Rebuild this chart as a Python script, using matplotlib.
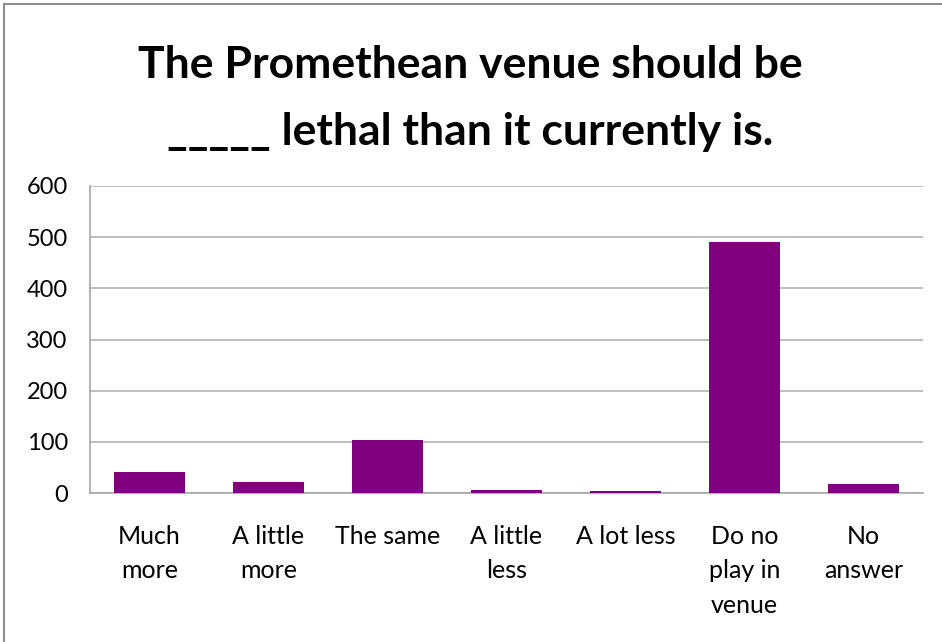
import matplotlib
matplotlib.use("Agg")
import matplotlib.pyplot as plt
from matplotlib.lines import Line2D

categories = ["Much\nmore", "A little\nmore", "The same", "A little\nless", "A lot less", "Do no\nplay in\nvenue", "No\nanswer"]
values = [41, 22, 104, 6, 3, 491, 18]
yticks = [0, 100, 200, 300, 400, 500, 600]
title_lines = ["The Promethean venue should be", "_____ lethal than it currently is."]

W, H = 942, 642
fig = plt.figure(figsize=(W / 100, H / 100), dpi=100)
fig.patch.set_facecolor("white")

ax = fig.add_axes([90 / W, 1 - 493 / H, (923 - 90) / W, (493 - 186) / H])
x = list(range(len(categories)))
ax.bar(x, values, width=0.6, color="#800080", zorder=3)
ax.set_xlim(-0.5, len(categories) - 0.5)
ax.set_ylim(0, 600)
ax.set_yticks(yticks)
ax.set_yticklabels([str(v) for v in yticks], fontsize=17, family="Lato")
ax.set_xticks(x)
ax.set_xticklabels(categories, fontsize=18, family="Lato", linespacing=1.6, va="top")
ax.tick_params(axis="both", length=0)
ax.tick_params(axis="y", pad=16)
ax.tick_params(axis="x", pad=23)
ax.grid(axis="y", color="#b3b3b3", linewidth=1.2, zorder=0)
for s in ["top", "right"]:
    ax.spines[s].set_visible(False)
for s in ["left", "bottom"]:
    ax.spines[s].set_color("#a6a6a6")
    ax.spines[s].set_linewidth(1.2)

fig.text(470 / W, 1 - 78 / H, title_lines[0], ha="center", va="baseline",
         fontsize=32, fontweight="bold", family="Lato")
fig.text(470 / W, 1 - 145 / H, title_lines[1], ha="center", va="baseline",
         fontsize=32, fontweight="bold", family="Lato")

# chart border (top and left visible)
fig.add_artist(Line2D([4 / W, 4 / W], [0, 1 - 4 / H], color="#8c8c8c", linewidth=1.5))
fig.add_artist(Line2D([4 / W, 1], [1 - 4 / H, 1 - 4 / H], color="#8c8c8c", linewidth=1.5))

fig.savefig("out.png", dpi=100)
